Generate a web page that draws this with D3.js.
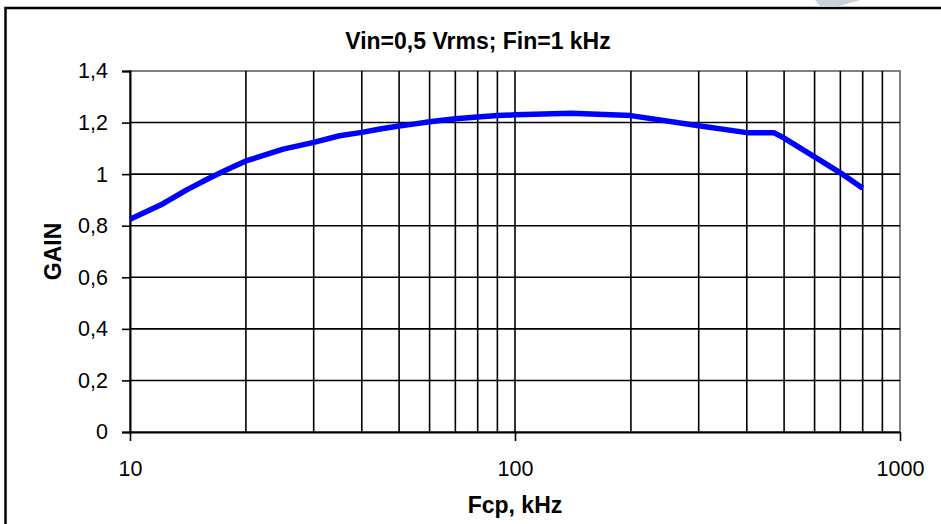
<!DOCTYPE html>
<html>
<head>
<meta charset="utf-8">
<script src="https://cdn.jsdelivr.net/npm/d3@7"></script>
<style>
  html, body { margin: 0; padding: 0; background: #fff; }
  svg { display: block; font-family: "Liberation Sans", Arial, sans-serif; }
</style>
</head>
<body>
<svg id="chart" width="941" height="524"></svg>
<script>
// frequency, kHz
const freq = [10, 12, 14, 16, 18, 20, 25, 30, 35, 40, 45, 50, 55, 60, 70, 80, 90, 100, 140, 200, 300, 400, 470, 500, 600, 700, 800];
// gain at each frequency
const gain = [0.825, 0.88, 0.938, 0.983, 1.02, 1.051, 1.097, 1.123, 1.149, 1.162, 1.176, 1.187, 1.195, 1.203, 1.215, 1.222, 1.227, 1.23, 1.236, 1.227, 1.188, 1.161, 1.161, 1.14, 1.067, 1.005, 0.945];
const xTicks = [10, 100, 1000];
const xGrid = [20, 30, 40, 50, 60, 70, 80, 90, 200, 300, 400, 500, 600, 700, 800, 900];
const yTicks = [0, 0.2, 0.4, 0.6, 0.8, 1, 1.2, 1.4];

const title = "Vin=0,5 Vrms; Fin=1 kHz";
const xTitle = "Fcp, kHz";
const yTitle = "GAIN";

const svg = d3.select("svg#chart");
const width = 941, height = 524;
const margin = { top: 71, right: 41, bottom: 92, left: 130 };

const x = d3.scaleLog()
    .domain([10, 1000])
    .range([margin.left, width - margin.right]);

const y = d3.scaleLinear()
    .domain([0, 1.4])
    .range([height - margin.bottom, margin.top]);

const fmt = d => d3.format("~g")(d).replace(".", ",");

// outer frame of the chart
svg.append("rect")
    .attr("x", 5.5).attr("y", 8)
    .attr("width", 960).attr("height", 540)
    .attr("fill", "none")
    .attr("stroke", "#000")
    .attr("stroke-width", 2.5);

// faint watermark corner
svg.append("polygon")
    .attr("points", "815,0 860,0 836,7 821,7")
    .attr("fill", "#c8d0dc");

// plot area border (top/right gray)
svg.append("rect")
    .attr("x", x(10)).attr("y", y(1.4))
    .attr("width", x(1000) - x(10))
    .attr("height", y(0) - y(1.4))
    .attr("fill", "none")
    .attr("stroke", "#808080")
    .attr("stroke-width", 2);

// horizontal grid
svg.append("g").selectAll("line")
    .data(yTicks.filter(d => d > 0 && d < 1.4))
    .join("line")
    .attr("x1", x(10)).attr("x2", x(1000))
    .attr("y1", d => y(d)).attr("y2", d => y(d))
    .attr("stroke", "#000")
    .attr("stroke-width", 1.6);

// vertical grid
svg.append("g").selectAll("line")
    .data(xGrid.concat([100]))
    .join("line")
    .attr("x1", d => x(d)).attr("x2", d => x(d))
    .attr("y1", y(1.4)).attr("y2", y(0))
    .attr("stroke", "#000")
    .attr("stroke-width", 1.6);

// y axis
svg.append("g")
    .attr("transform", `translate(${x(10)},0)`)
    .call(d3.axisLeft(y).tickValues(yTicks).tickFormat(fmt).tickSize(8).tickPadding(14))
    .call(g => g.select(".domain").attr("stroke-width", 2))
    .call(g => g.selectAll(".tick line").attr("stroke-width", 1.6))
    .call(g => g.selectAll("text").attr("font-size", 21.5).attr("font-family", "Liberation Sans, Arial, sans-serif").attr("fill", "#000"));

// x axis
svg.append("g")
    .attr("transform", `translate(0,${y(0)})`)
    .call(d3.axisBottom(x).tickValues(xTicks).tickFormat(d3.format("d")).tickSize(9).tickSizeOuter(0).tickPadding(20))
    .call(g => g.select(".domain").attr("stroke-width", 2))
    .call(g => g.selectAll(".tick line").attr("stroke-width", 1.6))
    .call(g => g.selectAll("text").attr("font-size", 21.5).attr("font-family", "Liberation Sans, Arial, sans-serif").attr("fill", "#000"));

// gain curve
const line = d3.line()
    .x((d, i) => x(freq[i]))
    .y(d => y(d));

svg.append("path")
    .datum(gain)
    .attr("fill", "none")
    .attr("stroke", "#0000ff")
    .attr("stroke-width", 5.5)
    .attr("stroke-linejoin", "round")
    .attr("d", line);

// titles
svg.append("text")
    .attr("x", 478).attr("y", 49)
    .attr("text-anchor", "middle")
    .attr("font-size", 23).attr("font-weight", 700)
    .text(title);

svg.append("text")
    .attr("x", (x(10) + x(1000)) / 2).attr("y", 513)
    .attr("text-anchor", "middle")
    .attr("font-size", 23).attr("font-weight", 700)
    .text(xTitle);

svg.append("text")
    .attr("transform", `translate(61,${(y(0) + y(1.4)) / 2}) rotate(-90)`)
    .attr("text-anchor", "middle")
    .attr("font-size", 23).attr("font-weight", 700)
    .text(yTitle);
</script>
</body>
</html>
